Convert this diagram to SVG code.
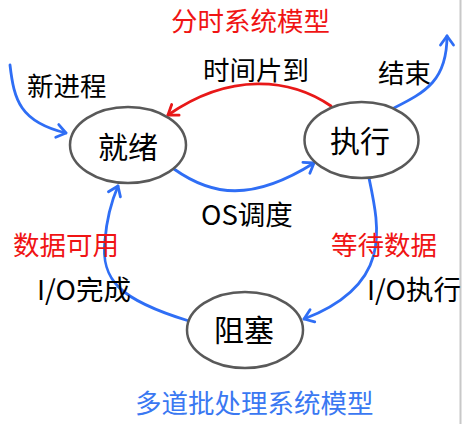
<svg xmlns="http://www.w3.org/2000/svg" width="462" height="424" viewBox="0 0 462 424">
<style>
text{font-family:"Microsoft YaHei","Noto Sans CJK SC","Noto Sans",sans-serif;font-size:26.5px;fill:#000}
.red{fill:#f01414}
.blue{fill:#3a78f2}
.io{font-size:27.5px}
.node ellipse{fill:#fff;stroke:#595959;stroke-width:2.5}
.node text{font-size:30px;text-anchor:middle}
.c{fill:none;stroke-width:2.8;stroke-linecap:round}
.cb{stroke:#2f6ef5}
.cr{stroke:#e81818}
</style>
<defs>
<marker id="ab" markerUnits="userSpaceOnUse" markerWidth="16" markerHeight="16" refX="12" refY="8" orient="auto" overflow="visible">
<path d="M3,1.5 L12,8 L3,14.5" fill="none" stroke="#2f6ef5" stroke-width="2.8" stroke-linecap="round" stroke-linejoin="round"/>
</marker>
<marker id="ar" markerUnits="userSpaceOnUse" markerWidth="16" markerHeight="16" refX="12" refY="8" orient="auto" overflow="visible">
<path d="M3,1.5 L12,8 L3,14.5" fill="none" stroke="#e81818" stroke-width="2.8" stroke-linecap="round" stroke-linejoin="round"/>
</marker>
</defs>
<rect width="462" height="424" fill="#fff"/>
<line x1="460.5" y1="0" x2="460.5" y2="424" stroke="#c8c8c8" stroke-width="2"/>
<g id="connectors">
<path class="c cb" d="M10,65 C14,100 20,122 66,133" marker-end="url(#ab)"/>
<path class="c cr" d="M331,106 C290,78 230,72 168,115" marker-end="url(#ar)"/>
<path class="c cb" d="M174,169 C212,196 252,202 314,163" marker-end="url(#ab)"/>
<path class="c cb" d="M394,108 C426,92 447,80 447,36" marker-end="url(#ab)"/>
<path class="c cb" d="M369,178 C380,230 392,285 304,319" marker-end="url(#ab)"/>
<path class="c cb" d="M189,321 C120,300 100,280 105,240 C107,215 112,200 118,186" marker-end="url(#ab)"/>
</g>
<g id="node-ready" class="node">
<ellipse cx="128" cy="145" rx="58" ry="38"/>
<text x="128" y="158">就绪</text>
</g>
<g id="node-running" class="node">
<ellipse cx="361.5" cy="140" rx="57" ry="38"/>
<text x="360" y="152">执行</text>
</g>
<g id="node-blocked" class="node">
<ellipse cx="245" cy="330" rx="58" ry="38"/>
<text x="244" y="341">阻塞</text>
</g>
<g id="labels">
<text class="red" x="171" y="31">分时系统模型</text>
<text x="27" y="96">新进程</text>
<text x="203" y="80">时间片到</text>
<text x="378" y="83">结束</text>
<text class="io" x="201" y="225">OS调度</text>
<text class="red" x="13" y="255">数据可用</text>
<text class="io" x="37" y="300">I/O完成</text>
<text class="red" x="331" y="255">等待数据</text>
<text class="io" x="367" y="300">I/O执行</text>
<text class="blue" x="135" y="413">多道批处理系统模型</text>
</g>
</svg>
